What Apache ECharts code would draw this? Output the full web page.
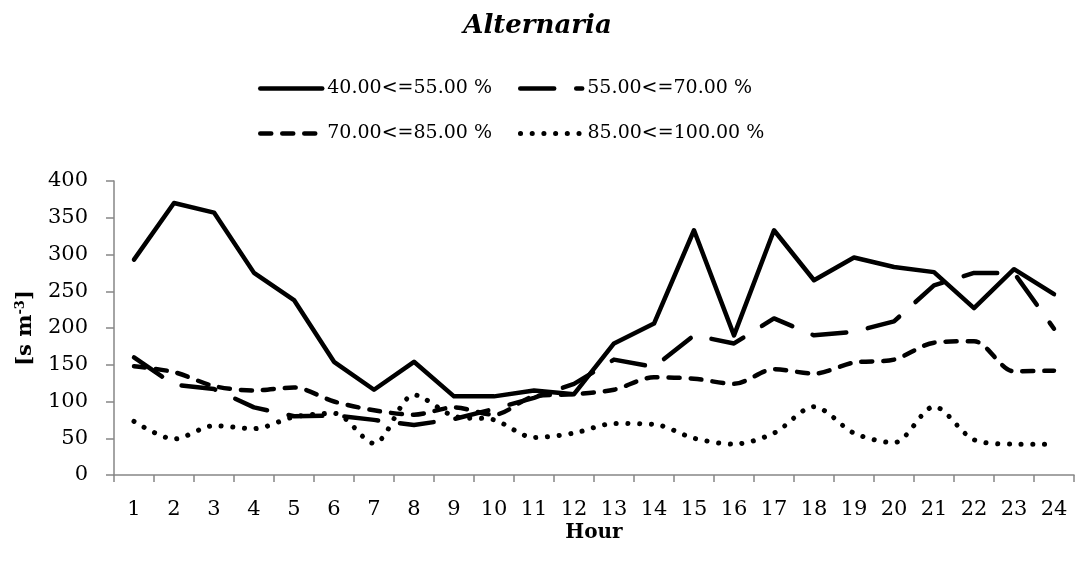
<!DOCTYPE html>
<html>
<head>
<meta charset="utf-8">
<script src="https://cdn.jsdelivr.net/npm/echarts@6/dist/echarts.min.js"></script>
<style>
  html, body { margin: 0; padding: 0; background: #fff; }
  #chart { width: 1075px; height: 562px; }
</style>
</head>
<body>
<div id="chart"></div>
<script>
// Hourly Alternaria spore concentration by relative-humidity class
const hours = ['1','2','3','4','5','6','7','8','9','10','11','12','13','14','15','16','17','18','19','20','21','22','23','24'];
const seriesNames = ['40.00<=55.00 %', '55.00<=70.00 %', '70.00<=85.00 %', '85.00<=100.00 %'];
const rh40to55 = [293, 370, 357, 275, 238, 154, 116, 154, 107, 107, 115, 110, 179, 206, 333, 190, 333, 265, 296, 283, 276, 227, 280, 246];
const rh55to70 = [160, 123, 117, 92, 80, 81, 75, 68, 76, 90, 105, 124, 157, 147, 190, 179, 213, 190, 195, 209, 258, 275, 275, 199];
const rh70to85 = [148, 140, 121, 115, 119, 100, 88, 82, 92, 82, 107, 110, 116, 133, 131, 124, 144, 138, 153, 157, 180, 182, 141, 142];
const rh85to100 = [73, 49, 67, 63, 79, 84, 43, 109, 80, 75, 51, 57, 70, 69, 50, 42, 57, 93, 57, 44, 93, 48, 42, 42];

const FONT = 'DejaVu Serif';
const AXIS_GREY = '#868686';

// Line styles per humidity class: solid, long dash, medium dash, round dots
const styles = [
  { type: 'solid', width: 4.5 },
  { type: [34, 22], width: 4.5 },
  { type: [11, 11], width: 4.5 },
  { type: [0.1, 11.6], width: 5 }
];

const chart = echarts.init(document.getElementById('chart'), null, { renderer: 'canvas' });

function lineSeries(i, data, smooth) {
  return {
    name: seriesNames[i],
    type: 'line',
    data: data,
    symbol: 'none',
    smooth: smooth,
    lineStyle: Object.assign({ color: '#000', cap: 'round', join: 'round' }, styles[i]),
    itemStyle: { color: '#000' },
    emphasis: { disabled: true }
  };
}

// Legend entries show only the line sample (the marker is made invisible)
function legendItem(i) {
  return {
    name: seriesNames[i],
    itemStyle: { color: 'rgba(0,0,0,0)', borderWidth: 0, opacity: 0 },
    lineStyle: Object.assign({ color: '#000', cap: 'round' }, styles[i])
  };
}

const legendBase = {
  left: 253,
  itemWidth: 62, itemHeight: 14, itemGap: 26,
  selectedMode: false,
  textStyle: { fontFamily: FONT, fontSize: 19, color: '#000' }
};

chart.setOption({
  animation: false,
  title: {
    text: 'Alternaria',
    left: 'center',
    top: 8,
    textStyle: { fontFamily: FONT, fontSize: 26, fontWeight: 'bold', fontStyle: 'italic', color: '#000' }
  },
  legend: [
    Object.assign({ top: 74, data: [legendItem(0), legendItem(1)] }, legendBase),
    Object.assign({ top: 119, data: [legendItem(2), legendItem(3)] }, legendBase)
  ],
  grid: { left: 114, top: 181, width: 960, height: 294, containLabel: false },
  xAxis: {
    type: 'category',
    data: hours,
    boundaryGap: true,
    name: 'Hour',
    nameLocation: 'middle',
    nameGap: 48,
    nameMoveOverlap: false,
    nameTextStyle: { fontFamily: FONT, fontSize: 20, fontWeight: 'bold', color: '#000' },
    axisLine: { lineStyle: { color: AXIS_GREY, width: 1.5 } },
    axisTick: { show: true, length: 7, lineStyle: { color: AXIS_GREY, width: 1.5 } },
    axisLabel: { fontFamily: FONT, fontSize: 21, color: '#000', margin: 24, interval: 0 },
    splitLine: { show: false }
  },
  yAxis: {
    type: 'value',
    min: 0, max: 400, interval: 50,
    name: '[s m{sup|-3}]',
    nameLocation: 'middle',
    nameRotate: 90,
    nameGap: 77,
    nameMoveOverlap: false,
    nameTextStyle: {
      fontFamily: FONT, fontSize: 21, fontWeight: 'bold', color: '#000',
      rich: { sup: { fontFamily: FONT, fontSize: 13, fontWeight: 'bold', color: '#000', verticalAlign: 'top', padding: [0, 0, 10, 0] } }
    },
    axisLine: { show: true, lineStyle: { color: AXIS_GREY, width: 1.5 } },
    axisTick: { show: true, length: 8, lineStyle: { color: AXIS_GREY, width: 1.5 } },
    axisLabel: { fontFamily: FONT, fontSize: 21, color: '#000', margin: 26 },
    splitLine: { show: false }
  },
  series: [
    lineSeries(0, rh40to55, false),
    lineSeries(1, rh55to70, false),
    lineSeries(2, rh70to85, 0.3),
    lineSeries(3, rh85to100, 0.3)
  ]
});
</script>
</body>
</html>
